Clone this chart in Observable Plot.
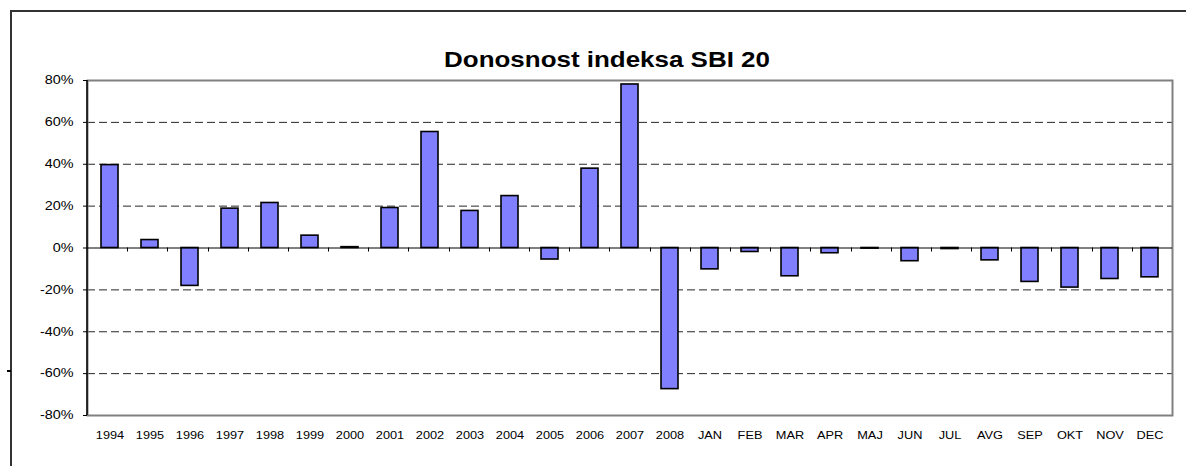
<!DOCTYPE html>
<html>
<head>
<meta charset="utf-8">
<script src="https://cdn.jsdelivr.net/npm/d3@7"></script>
<script src="https://cdn.jsdelivr.net/npm/@observablehq/plot@0.6"></script>
<style>
  html, body { margin: 0; padding: 0; background: #fff; }
  #wrap { position: relative; width: 1186px; height: 466px; overflow: hidden; font-family: "Liberation Sans", Arial, sans-serif; }
  #frame { position: absolute; left: 10px; top: 10px; width: 1300px; height: 600px; border-top: 2px solid #333; border-left: 2px solid #333; box-sizing: border-box; }
  #nub { position: absolute; left: 7px; top: 370px; width: 4px; height: 2px; background: #000; }
  #chart { position: absolute; left: 0; top: 0; }
</style>
</head>
<body>
<div id="wrap">
  <div id="frame"></div>
  <div id="nub"></div>
  <div id="chart"></div>
</div>
<script>
const title = "Donosnost indeksa SBI 20";
const categories = ["1994","1995","1996","1997","1998","1999","2000","2001","2002","2003","2004","2005","2006","2007","2008",
  "JAN","FEB","MAR","APR","MAJ","JUN","JUL","AVG","SEP","OKT","NOV","DEC"];
const values = [39.6, 3.8, -18.1, 18.8, 21.5, 5.9, 0.4, 19.1, 55.4, 17.7, 24.8, -5.5, 37.9, 78.1, -67.4,
  -10.2, -1.9, -13.5, -2.5, -0.3, -6.3, -0.5, -5.9, -16.2, -18.9, -14.8, -14.0];
const yTicks = [-0.8, -0.6, -0.4, -0.2, 0, 0.2, 0.4, 0.6, 0.8];
const gridTicks = [-0.6, -0.4, -0.2, 0.2, 0.4, 0.6];

const data = categories.map((c, i) => ({cat: c, v: values[i] / 100}));

// zero-line tick marks at category boundaries + black left axis line
function axisDecor(index, scales, values, dims) {
  const g = d3.create("svg:g");
  const n = categories.length;
  const x0 = dims.marginLeft, x1 = dims.width - dims.marginRight;
  const step = (x1 - x0) / n;
  const y0 = scales.y(0);
  for (let k = 1; k < n; k++) {
    const x = Math.round(x0 + k * step) + 0.5;
    g.append("line").attr("x1", x).attr("x2", x).attr("y1", y0).attr("y2", y0 + 4)
      .attr("stroke", "#000").attr("stroke-width", 1);
  }
  g.append("line").attr("x1", x0).attr("x2", x0)
    .attr("y1", dims.marginTop).attr("y2", dims.height - dims.marginBottom)
    .attr("stroke", "#000").attr("stroke-width", 1.5);
  return g.node();
}

const plot = Plot.plot({
  width: 1186,
  height: 466,
  marginLeft: 87,
  marginRight: 14,
  marginTop: 80,
  marginBottom: 51,
  style: {fontFamily: "'Liberation Sans', Arial, sans-serif", fontSize: "12px", color: "#000", background: "transparent"},
  x: {type: "band", domain: categories, paddingInner: 0.58, paddingOuter: 0.29, align: 0.5},
  y: {domain: [-0.8, 0.8]},
  marks: [
    Plot.ruleY(gridTicks, {stroke: "#000", strokeWidth: 1, strokeDasharray: "8,4", strokeOpacity: 0.85}),
    Plot.frame({stroke: "#808080", strokeWidth: 2}),
    Plot.barY(data, {x: "cat", y1: 0, y2: "v", fill: "#8080FF", stroke: "#000", strokeWidth: 1.6}),
    Plot.ruleY([0], {stroke: "#000", strokeWidth: 1}),
    axisDecor,
    Plot.axisY({ticks: yTicks, tickSize: 4, tickPadding: 10, tickFormat: d => Math.round(d * 100) + "%", fontSize: 12, label: null}),
    Plot.axisX({tickSize: 0, tickPadding: 16, fontSize: 11, label: null}),
    Plot.text([title], {frameAnchor: "top", dx: -23, dy: -29, fontSize: 22, fontWeight: "bold", fill: "#000"})
  ]
});
document.getElementById("chart").appendChild(plot);

// reference text is horizontally stretched: widen glyphs around each anchor
function stretch(sel, s) {
  d3.select(plot).selectAll(sel).each(function() {
    const t = d3.select(this);
    const xv = parseFloat(t.attr("x"));
    const x = isFinite(xv) ? xv : 0;
    const tr = t.attr("transform") || "";
    t.attr("transform", `${tr} translate(${x},0) scale(${s},1) translate(${-x},0)`);
  });
}
stretch('g[aria-label="y-axis tick label"] text', 1.2);
stretch('g[aria-label="x-axis tick label"] text', 1.16);
stretch('g[aria-label="text"] text', 1.18);
</script>
</body>
</html>
